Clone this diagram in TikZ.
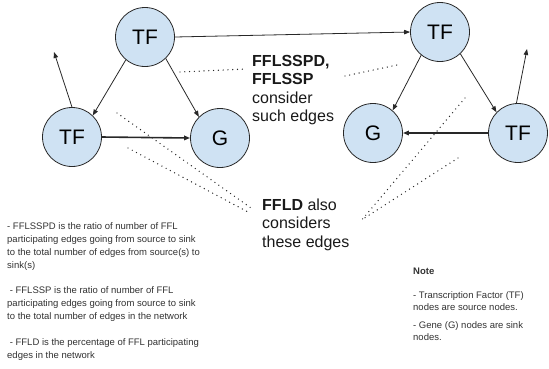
\documentclass[tikz,border=0pt]{standalone}
\usepackage{fontspec}
\setmainfont{Liberation Sans}
\usetikzlibrary{arrows.meta}
\definecolor{nodeblue}{RGB}{207,226,243}
\definecolor{edgegray}{RGB}{40,40,40}
\definecolor{textgray}{RGB}{50,50,50}
\begin{document}
\begin{tikzpicture}[x=1pt,y=-1pt,>={Triangle[length=6pt,width=4.5pt]}]
\tikzset{
  circ/.style={circle,draw=edgegray,fill=nodeblue,line width=0.8pt,minimum size=59pt,inner sep=0pt,font=\fontsize{21}{21}\selectfont},
  link/.style={->,draw=edgegray,line width=0.8pt},
  thick link/.style={link,line width=1.6pt},
  dots/.style={draw=edgegray,line width=1.4pt,line cap=round,dash pattern=on 0pt off 4.8pt},
  big text/.style={font=\fontsize{16}{18.5}\selectfont,align=left,anchor=base west,inner sep=0pt,text=black!90},
  small text/.style={font=\fontsize{9.5}{13}\selectfont,align=left,anchor=base west,inner sep=0pt,text=textgray}
}
\useasboundingbox (0,0) rectangle (549,368);
\node[circ] (TF1) at (145,37) {TF};
\node[circ] (TF2) at (72,137) {TF};
\draw[link] (TF1.-130) -- (TF2.46);
\node[circ] (G1) at (220,138) {G};
\draw[link] (TF1.-46) -- (G1.135);
\draw[thick link] (TF2.east) -- (G1.west);
\coordinate (out1) at (54,52);
\draw[link] (TF2.north) -- (out1);

\node[circ] (TF3) at (440,32) {TF};
\draw[link] (TF1.east) -- (TF3.west);
\node[circ] (G2) at (373,133) {G};
\draw[link] (TF3.-129) -- (G2.49);
\node[circ] (TF4) at (518,133) {TF};
\draw[link] (TF3.-47) -- (TF4.136);
\draw[thick link] (TF4.west) -- (G2.east);
\coordinate (out2) at (527,49);
\draw[link] (TF4.93) -- (out2);

\draw[dots] (180,72) -- (246,69);
\draw[dots] (345,76) -- (397,65);
\draw[dots] (117,113) -- (251,208);
\draw[dots] (128,148) -- (248,212);
\draw[dots] (465,98) -- (360,222);
\draw[dots] (458,158) -- (363,219);

% base anchor sits on the last line
\node[big text] (lbl1) at (252,121.5) {\textbf{FFLSSPD,}\\\textbf{FFLSSP}\\consider\\such edges};
\node[big text] (lbl2) at (262,247) {\textbf{FFLD} also\\considers\\these edges};
\node[small text] (desc) at (7,358) {- FFLSSPD is the ratio of number of FFL\\participating edges going from source to sink\\to the total number of edges from source(s) to\\sink(s)\\[12pt]\ - FFLSSP is the ratio of number of FFL\\participating edges going from source to sink\\to the total number of edges in the network\\[13pt]\ - FFLD is the percentage of FFL participating\\edges in the network};
\node[small text,font=\fontsize{9.5}{12}\selectfont] (note) at (413,340) {\textbf{Note}\\[12pt]- Transcription Factor (TF)\\nodes are source nodes.\\[6pt]- Gene (G) nodes are sink\\nodes.};
\end{tikzpicture}
\end{document}
